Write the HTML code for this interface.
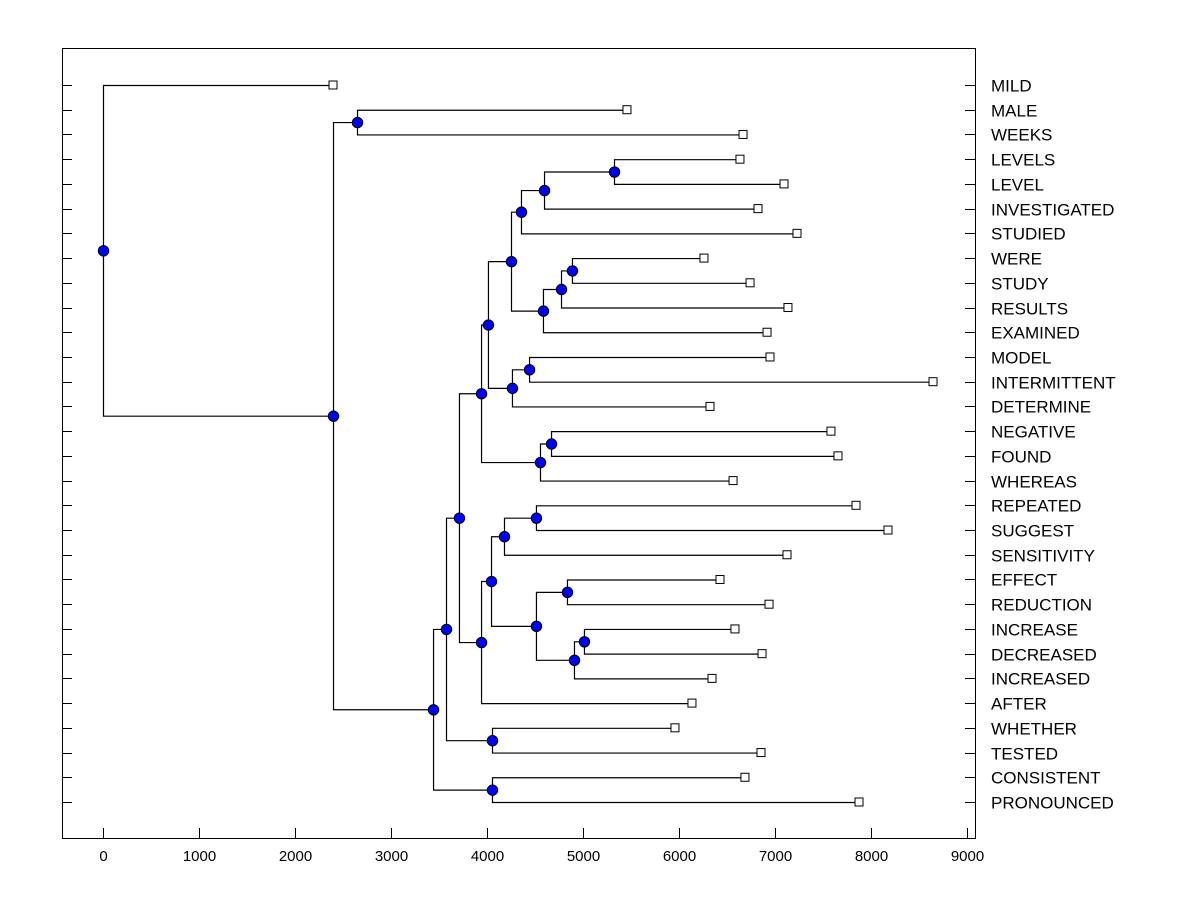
<!DOCTYPE html>
<html><head><meta charset="utf-8"><style>
html,body{margin:0;padding:0;background:#fff;}
svg{display:block;}
text{font-family:"Liberation Sans",Arial,sans-serif;fill:#000;}
</style></head><body>
<svg id="chart" width="1200" height="900" viewBox="0 0 1200 900" xmlns="http://www.w3.org/2000/svg">
<rect x="62.5" y="48.5" width="913" height="790" fill="none" stroke="#000" stroke-width="1"/>
<g id="axes"></g>
<g id="links"></g>
<g id="marks"></g>
</svg>
<script>
const leafNames = ["MILD","MALE","WEEKS","LEVELS","LEVEL","INVESTIGATED","STUDIED","WERE","STUDY","RESULTS","EXAMINED","MODEL","INTERMITTENT","DETERMINE","NEGATIVE","FOUND","WHEREAS","REPEATED","SUGGEST","SENSITIVITY","EFFECT","REDUCTION","INCREASE","DECREASED","INCREASED","AFTER","WHETHER","TESTED","CONSISTENT","PRONOUNCED"];
const leafValues = [2396,5458,6667,6635,7094,6823,7229,6260,6740,7135,6917,6948,8646,6323,7583,7656,6563,7844,8177,7125,6427,6938,6583,6865,6344,6135,5958,6854,6687,7875];
const mergeLeft  = [3,30,31,7,33,34,32,11,37,36,14,40,39,17,43,20,22,46,45,44,49,42,26,51,28,53,1,56,0];
const mergeRight = [4,5,6,8,9,10,35,12,13,38,15,16,41,18,19,21,23,24,47,48,25,50,27,52,29,54,2,55,57];
const mergeHeight= [5323,4594,4354,4885,4771,4583,4250,4438,4260,4010,4667,4552,3938,4510,4177,4833,5010,4906,4510,4042,3938,3708,4052,3573,4052,3438,2646,2396,0];
const xTicks = [0,1000,2000,3000,4000,5000,6000,7000,8000,9000];

const NS="http://www.w3.org/2000/svg";
const X0=103, XS=0.096, Y0=85, YS=(802-85)/29;
const xs=v=>X0+v*XS, ys=i=>Y0+i*YS;
function mk(tag,attrs,parent){const e=document.createElementNS(NS,tag);for(const k in attrs)e.setAttribute(k,attrs[k]);parent.appendChild(e);return e;}
const axes=document.getElementById('axes'),links=document.getElementById('links'),marks=document.getElementById('marks');

leafNames.forEach((n,i)=>{
  const y=Math.round(ys(i))+0.5;
  const t1=mk('line',{x1:62,x2:72,y1:y,y2:y,stroke:'#000'},axes);
  
  
  const t2=mk('line',{x1:965,x2:975,y1:y,y2:y,stroke:'#000'},axes);
  
  
  const tx=mk('text',{x:991,y:y+6,'font-size':17},axes);
  tx.textContent=n;
  
  
});
xTicks.forEach(v=>{
  const x=Math.round(xs(v))+0.5;
  const t=mk('line',{x1:x,x2:x,y1:828,y2:838,stroke:'#000'},axes);
  
  
  const tx=mk('text',{x:x,y:861,'font-size':15,'text-anchor':'middle'},axes);
  tx.textContent=v;
  
  
});

const N=leafNames.length;
const posX=[],posY=[];
for(let i=0;i<N;i++){posX[i]=xs(leafValues[i]);posY[i]=ys(i);}
mergeHeight.forEach((h,k)=>{
  const a=mergeLeft[k],b=mergeRight[k],id=N+k;
  const x=xs(h);
  posX[id]=x;posY[id]=(posY[a]+posY[b])/2;
  const p=mk('path',{d:`M${posX[a]},${posY[a]+0.5}H${x+0.5}V${posY[b]+0.5}H${posX[b]}`,fill:'none',stroke:'#000','stroke-width':1.2},links);
  
  
});
for(let i=0;i<N;i++){
  const r=mk('rect',{x:posX[i]-4,y:posY[i]-4,width:8,height:8,fill:'#fff',stroke:'#000','stroke-width':1},marks);
  
  
}
mergeHeight.forEach((h,k)=>{
  const id=N+k;
  const c=mk('circle',{cx:posX[id]+0.5,cy:posY[id]+0.5,r:5.2,fill:'#0000ff',stroke:'#000','stroke-width':1},marks);
  
  
});
</script>
</body></html>
